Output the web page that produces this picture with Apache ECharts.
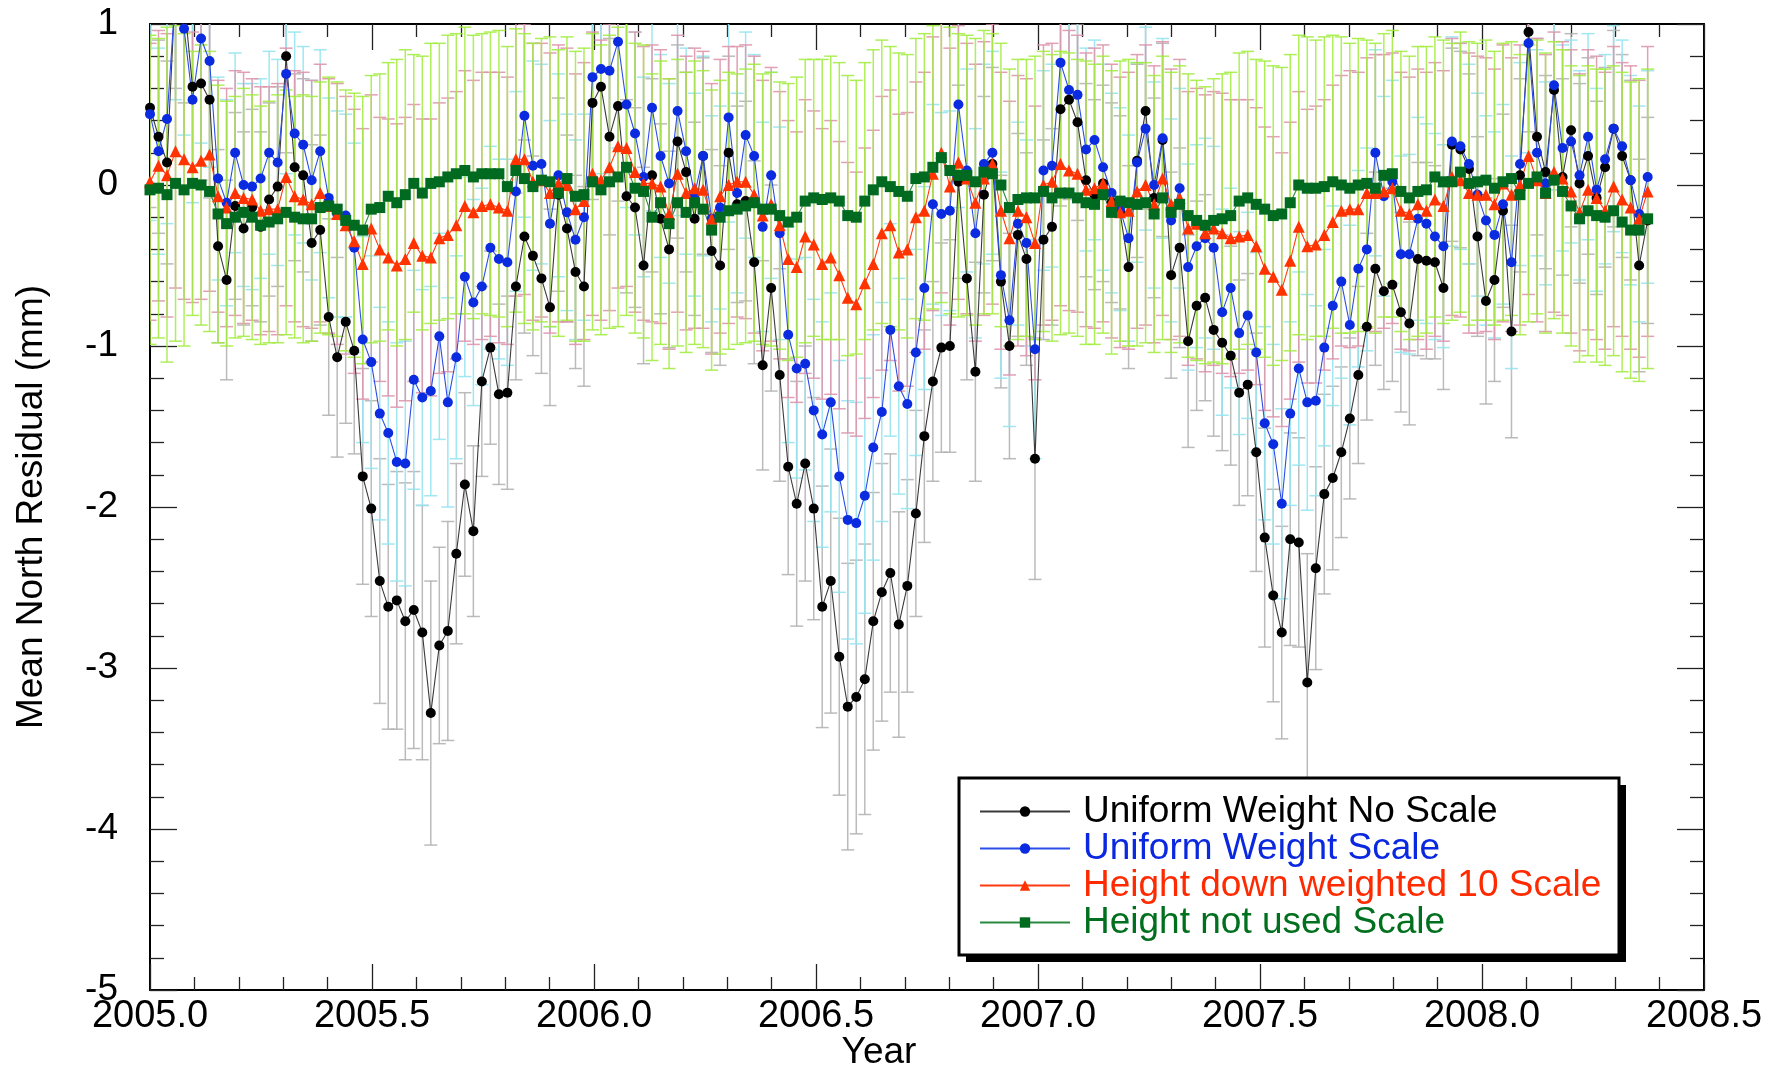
<!DOCTYPE html>
<html><head><meta charset="utf-8">
<script src="https://cdn.jsdelivr.net/npm/echarts@6/dist/echarts.min.js"></script>
<style>html,body{margin:0;padding:0;background:#fff}#c{width:1773px;height:1073px}</style>
</head><body><div id="c"></div>
<script>
// decimal-year epochs (weekly)
const years = [2005.0000,2005.0192,2005.0383,2005.0575,2005.0767,2005.0958,2005.1150,2005.1342,2005.1533,2005.1725,
2005.1917,2005.2108,2005.2300,2005.2491,2005.2683,2005.2875,2005.3066,2005.3258,2005.3450,2005.3641,
2005.3833,2005.4025,2005.4216,2005.4408,2005.4600,2005.4791,2005.4983,2005.5175,2005.5366,2005.5558,
2005.5750,2005.5941,2005.6133,2005.6324,2005.6516,2005.6708,2005.6899,2005.7091,2005.7283,2005.7474,
2005.7666,2005.7858,2005.8049,2005.8241,2005.8433,2005.8624,2005.8816,2005.9008,2005.9199,2005.9391,
2005.9583,2005.9774,2005.9966,2006.0157,2006.0349,2006.0541,2006.0732,2006.0924,2006.1116,2006.1307,
2006.1499,2006.1691,2006.1882,2006.2074,2006.2266,2006.2457,2006.2649,2006.2840,2006.3032,2006.3224,
2006.3415,2006.3607,2006.3799,2006.3990,2006.4182,2006.4374,2006.4565,2006.4757,2006.4949,2006.5140,
2006.5332,2006.5524,2006.5715,2006.5907,2006.6099,2006.6290,2006.6482,2006.6674,2006.6865,2006.7057,
2006.7249,2006.7440,2006.7632,2006.7823,2006.8015,2006.8207,2006.8398,2006.8590,2006.8782,2006.8973,
2006.9165,2006.9357,2006.9548,2006.9740,2006.9932,2007.0123,2007.0315,2007.0507,2007.0698,2007.0890,
2007.1082,2007.1273,2007.1465,2007.1657,2007.1848,2007.2040,2007.2231,2007.2423,2007.2615,2007.2806,
2007.2998,2007.3190,2007.3381,2007.3573,2007.3765,2007.3956,2007.4148,2007.4340,2007.4531,2007.4723,
2007.4915,2007.5106,2007.5298,2007.5490,2007.5681,2007.5873,2007.6065,2007.6256,2007.6448,2007.6639,
2007.6831,2007.7023,2007.7214,2007.7406,2007.7598,2007.7789,2007.7981,2007.8173,2007.8364,2007.8556,
2007.8748,2007.8939,2007.9131,2007.9323,2007.9514,2007.9706,2007.9898,2008.0089,2008.0281,2008.0473,
2008.0664,2008.0856,2008.1048,2008.1239,2008.1431,2008.1622,2008.1814,2008.2006,2008.2197,2008.2389,
2008.2581,2008.2772,2008.2964,2008.3156,2008.3347,2008.3539,2008.3731];

const noScale = [0.48,0.30,0.14,1.25,1.15,0.61,0.63,0.53,-0.38,-0.59,
-0.13,-0.27,-0.14,-0.26,-0.09,-0.01,0.80,0.11,0.06,-0.36,
-0.28,-0.82,-1.07,-0.85,-1.03,-1.81,-2.01,-2.46,-2.62,-2.58,
-2.71,-2.64,-2.78,-3.28,-2.86,-2.77,-2.29,-1.86,-2.15,-1.22,
-1.01,-1.30,-1.29,-0.63,-0.32,-0.44,-0.58,-0.76,-0.06,-0.27,
-0.54,-0.63,0.51,0.61,0.30,0.49,-0.07,-0.14,-0.50,0.06,
-0.21,-0.40,0.27,0.08,-0.21,0.18,-0.41,-0.50,0.20,-0.12,
-0.10,-0.48,-1.12,-0.64,-1.18,-1.75,-1.98,-1.73,-2.01,-2.62,
-2.46,-2.93,-3.24,-3.18,-3.07,-2.71,-2.53,-2.41,-2.73,-2.49,
-2.04,-1.56,-1.22,-1.01,-1.00,0.02,-0.58,-1.16,-0.06,0.13,
-0.60,-1.00,-0.31,-0.46,-1.70,-0.34,-0.26,0.47,0.53,0.39,
0.03,-0.06,0.01,-0.11,-0.17,-0.51,0.15,0.46,-0.08,0.28,
-0.56,-0.39,-0.97,-0.75,-0.70,-0.90,-0.98,-1.06,-1.29,-1.24,
-1.66,-2.19,-2.55,-2.78,-2.20,-2.22,-3.09,-2.38,-1.92,-1.82,
-1.66,-1.45,-1.18,-0.88,-0.52,-0.66,-0.62,-0.79,-0.86,-0.46,
-0.47,-0.48,-0.64,0.25,0.22,0.10,-0.32,-0.72,-0.59,-0.16,
-0.91,0.06,0.95,0.30,0.08,0.59,0.05,0.34,0.01,0.18,
-0.08,0.11,0.35,0.18,0.03,-0.50,-0.22];

const uniScale = [0.44,0.21,0.41,1.20,0.97,0.53,0.91,0.77,0.04,-0.11,
0.20,0.00,-0.01,0.04,0.20,0.14,0.69,0.32,0.25,0.03,
0.21,-0.08,-0.18,-0.19,-0.39,-0.96,-1.10,-1.42,-1.54,-1.72,
-1.73,-1.21,-1.32,-1.28,-0.94,-1.35,-1.07,-0.57,-0.73,-0.63,
-0.39,-0.46,-0.48,-0.04,0.43,0.12,0.13,-0.24,0.06,-0.17,
-0.34,-0.20,0.67,0.72,0.71,0.89,0.50,0.32,0.05,0.48,
0.18,0.01,0.46,0.21,-0.06,0.18,-0.21,-0.14,0.42,-0.05,
0.31,0.18,-0.26,0.06,-0.30,-0.93,-1.14,-1.11,-1.40,-1.55,
-1.35,-1.81,-2.08,-2.10,-1.93,-1.63,-1.41,-0.90,-1.25,-1.36,
-1.04,-0.64,-0.12,-0.18,-0.16,0.50,0.09,-0.30,0.13,0.20,
-0.56,-0.84,-0.24,-0.36,-1.02,0.09,0.12,0.76,0.59,0.56,
0.22,0.28,0.11,-0.05,-0.15,-0.33,0.14,0.35,0.00,0.29,
-0.22,-0.02,-0.51,-0.38,-0.33,-0.39,-0.79,-0.64,-0.92,-0.81,
-1.04,-1.48,-1.61,-1.98,-1.42,-1.14,-1.35,-1.34,-1.01,-0.75,
-0.60,-0.87,-0.52,-0.40,0.20,-0.07,0.02,-0.43,-0.43,-0.21,
-0.24,-0.32,-0.38,0.27,0.24,0.13,-0.06,-0.22,-0.31,-0.12,
-0.48,0.13,0.88,0.20,0.01,0.62,0.23,0.27,0.06,0.30,
-0.03,0.16,0.35,0.24,0.03,-0.18,0.05];

const hgtDown10 = [0.02,0.12,0.06,0.21,0.16,0.11,0.15,0.19,-0.07,-0.14,
-0.05,-0.08,-0.09,-0.16,-0.15,-0.15,0.05,-0.07,-0.09,-0.12,
-0.05,-0.13,-0.18,-0.25,-0.35,-0.49,-0.27,-0.40,-0.45,-0.50,
-0.46,-0.36,-0.44,-0.45,-0.33,-0.31,-0.25,-0.13,-0.17,-0.13,
-0.12,-0.14,-0.16,0.16,0.16,0.02,0.03,-0.05,0.01,0.00,
-0.15,-0.10,0.07,0.03,0.11,0.24,0.23,0.08,0.01,0.01,
-0.01,-0.18,0.07,-0.05,-0.02,-0.03,-0.21,-0.07,0.00,0.02,
0.02,-0.06,-0.19,-0.12,-0.25,-0.46,-0.51,-0.32,-0.37,-0.49,
-0.45,-0.56,-0.70,-0.74,-0.61,-0.49,-0.30,-0.25,-0.42,-0.40,
-0.20,-0.16,0.07,0.20,-0.01,0.14,0.04,-0.11,0.04,0.13,
-0.16,-0.33,-0.16,-0.20,-0.36,0.00,0.02,0.13,0.09,0.07,
-0.03,-0.02,0.01,-0.10,-0.17,-0.16,-0.04,0.00,-0.12,0.04,
-0.12,-0.08,-0.27,-0.24,-0.30,-0.27,-0.30,-0.33,-0.32,-0.31,
-0.38,-0.52,-0.57,-0.65,-0.47,-0.26,-0.38,-0.37,-0.31,-0.23,
-0.16,-0.15,-0.15,-0.05,-0.05,-0.04,-0.02,-0.16,-0.18,-0.12,
-0.16,-0.09,-0.13,0.05,0.03,-0.05,-0.06,-0.06,-0.12,0.01,
-0.06,0.00,0.18,0.03,-0.05,0.08,0.04,-0.04,-0.17,-0.03,
-0.08,-0.16,-0.01,-0.09,-0.14,-0.21,-0.04];

const hgtNotUsed = [-0.03,-0.02,-0.06,0.01,-0.03,0.01,0.00,-0.04,-0.18,-0.24,
-0.20,-0.17,-0.20,-0.25,-0.23,-0.21,-0.17,-0.20,-0.21,-0.21,
-0.14,-0.13,-0.15,-0.22,-0.25,-0.28,-0.15,-0.14,-0.07,-0.11,
-0.06,0.01,-0.05,0.01,0.02,0.05,0.07,0.09,0.05,0.07,
0.07,0.07,-0.01,0.09,0.04,-0.01,0.03,0.02,-0.05,0.04,
-0.07,-0.06,0.02,-0.03,0.02,0.05,0.11,-0.02,-0.04,-0.20,
-0.11,-0.24,-0.11,-0.17,-0.11,-0.15,-0.28,-0.20,-0.16,-0.15,
-0.13,-0.11,-0.15,-0.15,-0.19,-0.23,-0.20,-0.10,-0.08,-0.09,
-0.08,-0.10,-0.19,-0.20,-0.10,-0.03,0.02,-0.01,-0.04,-0.07,
0.04,0.05,0.11,0.17,0.09,0.06,0.06,0.02,0.08,0.07,
0.00,-0.14,-0.09,-0.08,-0.08,-0.04,-0.08,-0.05,-0.05,-0.08,
-0.11,-0.12,-0.06,-0.17,-0.10,-0.11,-0.12,-0.11,-0.18,-0.08,
-0.17,-0.12,-0.19,-0.22,-0.25,-0.22,-0.21,-0.19,-0.10,-0.08,
-0.12,-0.15,-0.19,-0.18,-0.11,0.00,-0.02,-0.02,-0.01,0.02,
0.00,-0.02,0.00,0.01,-0.02,0.06,0.07,-0.04,-0.08,-0.04,
-0.03,0.05,0.02,0.02,0.08,0.01,0.02,0.03,-0.02,0.02,
0.04,-0.06,0.01,0.05,-0.05,0.03,-0.04,-0.13,-0.21,-0.16,
-0.19,-0.20,-0.16,-0.23,-0.28,-0.28,-0.21];

// error-bar half widths (mm)
const errNoScale = [0.62,0.60,0.63,0.65,0.64,0.62,0.60,0.61,0.60,0.62,
0.58,0.60,0.61,0.59,0.60,0.62,0.60,0.58,0.60,0.61,
0.59,0.61,0.62,0.63,0.64,0.67,0.67,0.76,0.76,0.80,
0.86,0.86,0.79,0.82,0.61,0.68,0.56,0.57,0.53,0.59,
0.60,0.56,0.60,0.58,0.60,0.62,0.59,0.61,0.60,0.58,
0.60,0.62,0.60,0.62,0.61,0.59,0.60,0.62,0.61,0.60,
0.59,0.61,0.60,0.62,0.60,0.61,0.63,0.62,0.60,0.61,
0.62,0.63,0.65,0.64,0.66,0.67,0.76,0.73,0.69,0.75,
0.82,0.86,0.89,0.85,0.84,0.80,0.80,0.74,0.70,0.66,
0.64,0.66,0.62,0.65,0.66,0.60,0.63,0.68,0.61,0.60,
0.66,0.70,0.63,0.66,0.75,0.62,0.61,0.60,0.62,0.61,
0.60,0.59,0.61,0.62,0.60,0.63,0.60,0.61,0.62,0.60,
0.64,0.62,0.66,0.65,0.64,0.66,0.67,0.68,0.70,0.69,
0.74,0.68,0.66,0.66,0.66,0.65,0.80,0.63,0.62,0.57,
0.53,0.50,0.55,0.58,0.60,0.61,0.60,0.62,0.63,0.60,
0.61,0.60,0.63,0.60,0.61,0.59,0.62,0.64,0.63,0.60,
0.66,0.60,0.62,0.61,0.60,0.62,0.61,0.60,0.62,0.61,
0.60,0.62,0.61,0.63,0.62,0.66,0.64];

const errUniScale = [0.66,0.64,0.65,0.67,0.66,0.64,0.65,0.66,0.63,0.64,
0.62,0.63,0.64,0.62,0.63,0.64,0.62,0.63,0.61,0.62,
0.63,0.62,0.64,0.63,0.65,0.64,0.66,0.66,0.69,0.74,
0.76,0.68,0.67,0.65,0.64,0.65,0.63,0.62,0.64,0.61,
0.63,0.62,0.64,0.62,0.63,0.65,0.62,0.64,0.63,0.61,
0.62,0.64,0.66,0.65,0.67,0.66,0.64,0.63,0.62,0.64,
0.63,0.62,0.65,0.64,0.63,0.62,0.64,0.63,0.65,0.62,
0.64,0.63,0.65,0.64,0.66,0.67,0.68,0.66,0.69,0.70,
0.68,0.72,0.74,0.75,0.73,0.70,0.68,0.66,0.67,0.65,
0.64,0.63,0.62,0.63,0.62,0.64,0.63,0.65,0.62,0.63,
0.64,0.66,0.63,0.64,0.68,0.62,0.63,0.66,0.64,0.65,
0.63,0.62,0.64,0.62,0.63,0.64,0.62,0.63,0.64,0.62,
0.63,0.62,0.64,0.63,0.62,0.63,0.64,0.62,0.63,0.64,
0.62,0.60,0.62,0.59,0.57,0.60,0.67,0.59,0.61,0.62,
0.60,0.62,0.61,0.63,0.64,0.62,0.63,0.61,0.62,0.63,
0.62,0.64,0.63,0.65,0.64,0.62,0.63,0.65,0.64,0.62,
0.66,0.63,0.68,0.64,0.63,0.65,0.64,0.63,0.65,0.64,
0.63,0.65,0.64,0.66,0.65,0.67,0.66];

const errHgtDown10 = [0.86,0.84,0.88,0.85,0.87,0.84,0.86,0.85,0.72,0.74,
0.76,0.78,0.75,0.77,0.76,0.78,0.80,0.78,0.79,0.77,
0.80,0.79,0.81,0.80,0.82,0.84,0.83,0.82,0.86,0.88,
0.88,0.86,0.85,0.86,0.84,0.85,0.83,0.84,0.82,0.83,
0.82,0.84,0.83,0.85,0.84,0.86,0.85,0.87,0.86,0.85,
0.84,0.86,0.88,0.87,0.89,0.88,0.86,0.87,0.85,0.86,
0.85,0.84,0.86,0.85,0.87,0.86,0.84,0.85,0.86,0.84,
0.85,0.86,0.84,0.85,0.83,0.86,0.84,0.85,0.83,0.84,
0.85,0.83,0.84,0.82,0.84,0.83,0.85,0.84,0.86,0.85,
0.84,0.86,0.85,0.87,0.86,0.85,0.84,0.86,0.85,0.87,
0.86,0.85,0.84,0.86,0.85,0.87,0.86,0.88,0.87,0.86,
0.85,0.87,0.86,0.85,0.84,0.86,0.85,0.87,0.86,0.85,
0.84,0.86,0.85,0.84,0.86,0.85,0.87,0.86,0.85,0.84,
0.86,0.88,0.87,0.85,0.86,0.84,0.85,0.86,0.84,0.85,
0.84,0.86,0.85,0.84,0.86,0.85,0.84,0.86,0.85,0.84,
0.86,0.85,0.84,0.86,0.85,0.87,0.86,0.85,0.84,0.86,
0.85,0.87,0.86,0.88,0.86,0.87,0.85,0.88,0.86,0.87,
0.88,0.86,0.87,0.85,0.88,0.86,0.90];

const errHgtNotUsed = [0.96,0.93,1.04,0.98,0.97,0.82,0.87,0.87,0.80,0.76,
0.75,0.77,0.76,0.74,0.75,0.77,0.76,0.75,0.77,0.76,
0.78,0.80,0.79,0.81,0.82,0.83,0.83,0.83,0.83,0.89,
0.90,0.80,0.85,0.87,0.86,0.88,0.87,0.89,0.88,0.87,
0.88,0.89,0.87,0.88,0.90,0.89,0.88,0.90,0.89,0.88,
0.90,0.91,0.92,0.90,0.91,0.93,0.92,0.90,0.91,0.89,
0.88,0.90,0.89,0.87,0.88,0.86,0.87,0.85,0.86,0.84,
0.85,0.86,0.84,0.85,0.83,0.86,0.87,0.88,0.86,0.87,
0.88,0.86,0.87,0.85,0.86,0.87,0.88,0.87,0.86,0.88,
0.87,0.89,0.88,0.90,0.89,0.88,0.87,0.89,0.88,0.87,
0.88,0.86,0.87,0.86,0.88,0.87,0.89,0.88,0.87,0.86,
0.88,0.87,0.86,0.88,0.87,0.89,0.88,0.87,0.86,0.88,
0.87,0.86,0.88,0.87,0.86,0.88,0.90,0.89,0.92,0.91,
0.90,0.92,0.93,0.91,0.92,0.93,0.94,0.92,0.93,0.91,
0.92,0.90,0.91,0.89,0.90,0.88,0.89,0.87,0.88,0.90,
0.89,0.87,0.88,0.86,0.87,0.88,0.86,0.87,0.85,0.86,
0.85,0.87,0.86,0.85,0.87,0.86,0.88,0.87,0.89,0.90,
0.91,0.92,0.90,0.93,0.92,0.94,0.93];

const seriesNames = ['Uniform Weight No Scale','Uniform Weight Scale','Height down weighted 10 Scale','Height not used Scale'];

const FONT = '"Liberation Sans", Arial, Helvetica, sans-serif';
const chart = echarts.init(document.getElementById('c'), null, {renderer: 'canvas'});

function errSeries(name, vals, errs, color) {
  return {
    type: 'custom', name: name, silent: true, clip: true, z: 2, animation: false,
    data: years.map((x, i) => [x, vals[i] - errs[i], vals[i] + errs[i]]),
    encode: {x: 0, y: [1, 2]},
    renderItem: function (params, api) {
      const x = api.value(0);
      const lo = api.coord([x, api.value(1)]);
      const hi = api.coord([x, api.value(2)]);
      const w = 6.5;
      const st = {stroke: color, lineWidth: 1.5, fill: null};
      return {type: 'group', children: [
        {type: 'line', shape: {x1: lo[0], y1: lo[1], x2: hi[0], y2: hi[1]}, style: st},
        {type: 'line', shape: {x1: lo[0] - w, y1: lo[1], x2: lo[0] + w, y2: lo[1]}, style: st},
        {type: 'line', shape: {x1: hi[0] - w, y1: hi[1], x2: hi[0] + w, y2: hi[1]}, style: st}
      ]};
    }
  };
}

function lineSeries(name, vals, symbol, size, lineColor, markColor) {
  return {
    type: 'line', name: name, z: 3, animation: false, silent: true,
    data: years.map((x, i) => [x, vals[i]]),
    symbol: symbol, symbolSize: size, showSymbol: true,
    lineStyle: {color: lineColor, width: 1.1},
    itemStyle: {color: markColor, borderWidth: 0}
  };
}

const axisCommonX = {
  type: 'value', min: 2005, max: 2008.5, interval: 0.5,
  axisLine: {show: true, onZero: false, lineStyle: {color: '#000', width: 2}},
  axisTick: {show: true, inside: true, length: 26, lineStyle: {color: '#222', width: 1.3}},
  minorTick: {show: true, splitNumber: 5, length: 13, lineStyle: {color: '#222', width: 1.3}},
  splitLine: {show: false}, minorSplitLine: {show: false}
};
const axisCommonY = {
  type: 'value', min: -5, max: 1, interval: 1,
  axisLine: {show: true, onZero: false, lineStyle: {color: '#000', width: 2}},
  axisTick: {show: true, inside: true, length: 27, lineStyle: {color: '#222', width: 1.3}},
  minorTick: {show: true, splitNumber: 5, length: 14, lineStyle: {color: '#222', width: 1.3}},
  splitLine: {show: false}, minorSplitLine: {show: false}
};

const option = {
  backgroundColor: '#fff',
  animation: false,
  grid: {left: 150, right: 69, top: 24, bottom: 83, containLabel: false},
  xAxis: [
    Object.assign({}, axisCommonX, {position: 'bottom',
      axisLabel: {show: true, margin: 8, fontSize: 38, color: '#000', fontFamily: FONT,
        showMinLabel: true, showMaxLabel: true, formatter: v => v.toFixed(1)}}),
    Object.assign({}, axisCommonX, {position: 'top', axisLabel: {show: false}})
  ],
  yAxis: [
    Object.assign({}, axisCommonY, {position: 'left',
      axisLabel: {show: true, margin: 32, fontSize: 37, color: '#000', fontFamily: FONT,
        showMinLabel: true, showMaxLabel: true}}),
    Object.assign({}, axisCommonY, {position: 'right', axisLabel: {show: false}})
  ],
  legend: {
    show: true, orient: 'vertical', left: 979, top: 793, padding: 0,
    itemWidth: 90, itemHeight: 13, itemGap: 0, z: 20, selectedMode: false,
    textStyle: {fontSize: 37, fontFamily: FONT, lineHeight: 37, padding: [0, 0, 0, 8]},
    data: [
      {name: seriesNames[0], textStyle: {color: '#000000'}},
      {name: seriesNames[1], textStyle: {color: '#0a28e0'}},
      {name: seriesNames[2], textStyle: {color: '#ff2a00'}},
      {name: seriesNames[3], textStyle: {color: '#00701e'}}
    ]
  },
  graphic: [
    {type: 'rect', z: 15, silent: true, shape: {x: 966, y: 785, width: 660, height: 177}, style: {fill: '#000'}},
    {type: 'rect', z: 16, silent: true, shape: {x: 959, y: 778, width: 660, height: 177}, style: {fill: '#fff', stroke: '#000', lineWidth: 3}},
    {type: 'text', z: 10, silent: true, x: 879, y: 1034,
      style: {text: 'Year', font: '37px ' + FONT, fill: '#000', textAlign: 'center', textVerticalAlign: 'top'}},
    {type: 'text', z: 10, silent: true, x: 32, y: 507, rotation: Math.PI / 2,
      style: {text: 'Mean North Residual (mm)', font: '37px ' + FONT, fill: '#000', textAlign: 'center', textVerticalAlign: 'middle'}}
  ],
  series: [
    errSeries('e0', noScale, errNoScale, 'rgba(175,175,175,0.85)'),
    errSeries('e1', uniScale, errUniScale, 'rgba(150,228,240,0.9)'),
    errSeries('e2', hgtDown10, errHgtDown10, 'rgba(222,150,172,0.9)'),
    errSeries('e3', hgtNotUsed, errHgtNotUsed, 'rgba(160,236,60,0.85)'),
    lineSeries(seriesNames[0], noScale, 'circle', 10, '#3a3a3a', '#000000'),
    lineSeries(seriesNames[1], uniScale, 'circle', 10, '#2b4de8', '#0a2be0'),
    lineSeries(seriesNames[2], hgtDown10, 'triangle', 12, '#ff3a10', '#ff3300'),
    lineSeries(seriesNames[3], hgtNotUsed, 'rect', 11, '#2a8a40', '#006b20')
  ]
};
chart.setOption(option);
</script>
</body></html>
